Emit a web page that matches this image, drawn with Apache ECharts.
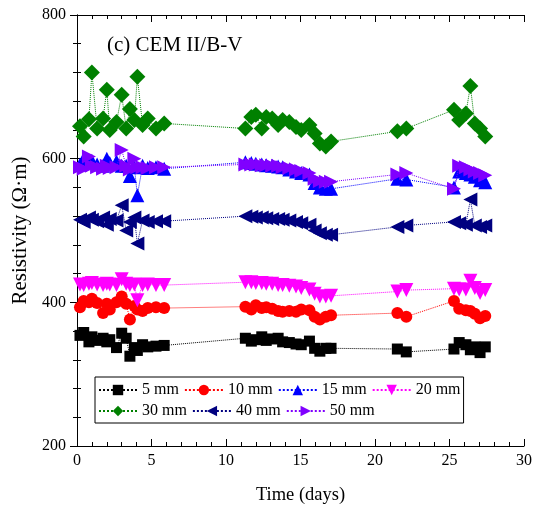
<!DOCTYPE html>
<html>
<head>
<meta charset="utf-8">
<script src="https://cdn.jsdelivr.net/npm/echarts@6/dist/echarts.min.js"></script>
<style>
  html, body { margin: 0; padding: 0; background: #fff; }
  #chart { width: 541px; height: 518px; }
</style>
</head>
<body>
<div id="chart"></div>
<script>
// Measurement times (days)
const days = [
  0.2, 0.45, 0.8, 1.0, 1.35, 1.75, 2.0, 2.2, 2.65, 3.0, 3.3, 3.55, 3.85, 4.05, 4.4, 4.75, 5.3, 5.85,
  11.3, 11.7, 12.0, 12.4, 12.7, 13.1, 13.5, 13.8, 14.25, 14.7, 15.05, 15.6, 15.95, 16.3, 16.7, 17.05,
  21.5, 22.1, 25.3, 25.65, 26.1, 26.4, 26.7, 27.05, 27.4
];

// Resistivity (Ω·m) by electrode spacing
const r5mm = [
  354, 358, 345, 352, 347, 350, 345, 348, 337, 357, 350, 325, 337, 333, 341, 338, 339, 340,
  350, 346, 348, 352, 347, 349, 350, 345, 344, 342, 341, 346, 336, 332, 336, 336,
  335, 331, 335, 344, 341, 334, 338, 330, 338
];
const r10mm = [
  393, 402, 400, 405, 399, 385, 398, 390, 400, 408, 398, 376, 395, 390, 388, 392, 393, 392,
  394, 390, 396, 392, 393, 391, 388, 387, 388, 387, 390, 389, 380, 376, 380, 382,
  385, 380, 402, 391, 389, 388, 384, 378, 381
];
const r15mm = [
  592, 600, 595, 597, 592, 590, 600, 594, 596, 590, 590, 576, 588, 549, 590, 587, 588, 586,
  595, 594, 593, 592, 591, 590, 589, 588, 585, 582, 580, 578, 566, 560, 558, 558,
  572, 571, 560, 582, 580, 578, 575, 570, 567
];
const r20mm = [
  425, 424, 426, 427, 425, 424, 426, 425, 424, 432, 426, 424, 425, 403, 424, 425, 424, 424,
  428, 428, 427, 427, 426, 426, 424, 424, 423, 422, 420, 418, 412, 408, 408, 409,
  415, 417, 419, 418, 418, 430, 420, 413, 417
];
const r30mm = [
  645, 631, 655, 720, 642, 656, 696, 640, 651, 689, 642, 669, 654, 714, 647, 656, 642, 649,
  642, 658, 661, 642, 658, 656, 647, 654, 651, 644, 640, 647, 635, 621, 617, 624,
  638, 642, 668, 654, 663, 701, 649, 642, 631
];
const r40mm = [
  515, 512, 518, 515, 513, 518, 508, 516, 514, 535, 500, 512, 518, 482, 514, 512, 513, 513,
  520, 519, 518, 518, 517, 516, 516, 515, 514, 512, 510, 508, 500, 496, 494, 494,
  505, 507, 512, 510, 508, 543, 507, 505, 507
];
const r50mm = [
  588, 586, 603, 590, 588, 586, 590, 587, 588, 612, 590, 585, 600, 588, 588, 587, 588, 588,
  592, 592, 592, 591, 591, 590, 590, 588, 587, 585, 583, 580, 572, 569, 568, 568,
  578, 580, 558, 590, 588, 585, 582, 580, 577
];

const seriesNames = ['5 mm', '10 mm', '15 mm', '20 mm', '30 mm', '40 mm', '50 mm'];
const xTicks = { min: 0, max: 30, interval: 5 };
const yTicks = { min: 200, max: 800, interval: 200 };

const FONT = 'Liberation Serif, Times New Roman, serif';

const styles = [
  { values: r5mm,  color: '#000000', symbol: 'rect',     size: 11, rotate: 0 },
  { values: r10mm, color: '#ff0000', symbol: 'circle',   size: 12, rotate: 0 },
  { values: r15mm, color: '#0000ff', symbol: 'triangle', size: 14, rotate: 0 },
  { values: r20mm, color: '#ff00ff', symbol: 'triangle', size: 14, rotate: 180 },
  { values: r30mm, color: '#008000', symbol: 'diamond',  size: 16, rotate: 0 },
  { values: r40mm, color: '#000080', symbol: 'triangle', size: 14, rotate: 90 },
  { values: r50mm, color: '#8000ff', symbol: 'triangle', size: 14, rotate: -90 }
];

const series = styles.map((s, i) => ({
  name: seriesNames[i],
  type: 'line',
  data: days.map((d, k) => [d, s.values[k]]),
  symbol: s.symbol,
  symbolSize: s.size,
  symbolRotate: s.rotate,
  showAllSymbol: true,
  color: s.color,
  itemStyle: { color: s.color },
  lineStyle: { color: s.color, width: 1, type: 'dotted' },
  animation: false,
  z: 2 + i
}));

const tickCommon = {
  axisLine: { show: true, lineStyle: { color: '#000', width: 1 } },
  axisTick: { show: true, inside: true, length: 7, lineStyle: { color: '#000' } },
  minorTick: { show: true, splitNumber: 5, length: 4, lineStyle: { color: '#000' } },
  splitLine: { show: false },
  minorSplitLine: { show: false }
};

const chart = echarts.init(document.getElementById('chart'), null, { renderer: 'canvas' });
chart.setOption({
  backgroundColor: '#fff',
  animation: false,
  title: {
    text: '(c) CEM II/B-V',
    left: 107, top: 35, padding: 0,
    textStyle: { fontFamily: FONT, fontSize: 21, fontWeight: 'normal', color: '#000' }
  },
  legend: {
    data: seriesNames,
    left: 95, top: 377, width: 385,
    padding: [5, 3, 4, 3],
    itemWidth: 38, itemHeight: 13, itemGap: 5,
    borderColor: '#000', borderWidth: 1, borderRadius: 0,
    backgroundColor: '#fff',
    textStyle: { fontFamily: FONT, fontSize: 16, color: '#000' }
  },
  grid: { left: 77, right: 17, top: 15, bottom: 72, containLabel: false },
  xAxis: [
    Object.assign({
      type: 'value', position: 'bottom',
      min: xTicks.min, max: xTicks.max, interval: xTicks.interval,
      name: 'Time (days)', nameLocation: 'middle', nameGap: 40,
      nameTextStyle: { fontFamily: FONT, fontSize: 18.5, color: '#000' },
      axisLabel: { fontFamily: FONT, fontSize: 16, color: '#000', margin: 7 }
    }, tickCommon),
    Object.assign({
      type: 'value', position: 'top',
      min: xTicks.min, max: xTicks.max, interval: xTicks.interval,
      axisLabel: { show: false }
    }, tickCommon)
  ],
  yAxis: [
    Object.assign({
      type: 'value', position: 'left',
      min: yTicks.min, max: yTicks.max, interval: yTicks.interval,
      name: 'Resistivity (Ω·m)', nameLocation: 'middle', nameGap: 44,
      nameTextStyle: { fontFamily: FONT, fontSize: 21, color: '#000' },
      axisLabel: { fontFamily: FONT, fontSize: 16, color: '#000', margin: 11 }
    }, tickCommon),
    Object.assign({
      type: 'value', position: 'right',
      min: yTicks.min, max: yTicks.max, interval: yTicks.interval,
      axisLabel: { show: false }
    }, tickCommon)
  ],
  series: series
});
</script>
</body>
</html>
